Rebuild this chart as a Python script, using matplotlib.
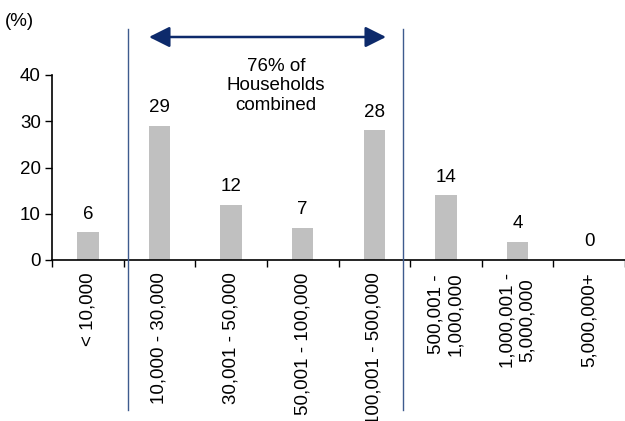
import numpy as np
import matplotlib.pyplot as plt
from matplotlib.lines import Line2D

plt.rcParams['font.family'] = ['Liberation Sans', 'DejaVu Sans']

categories = ['< 10,000', '10,000 - 30,000', '30,001 - 50,000', '50,001 - 100,000',
              '100,001 - 500,000', '500,001 -\n1,000,000', '1,000,001 -\n5,000,000', '5,000,000+']
shares = [6, 29, 12, 7, 28, 14, 4, 0]
yticks = [0, 10, 20, 30, 40]

W, H = 625, 421
FS = 13.5
fig = plt.figure(figsize=(W / 100, H / 100), dpi=100)
ax = fig.add_axes([52 / W, 1 - 260 / H, (W - 52) / W, (260 - 75) / H])

x = np.arange(len(categories))
ax.bar(x, shares, width=0.3, color='#c0c0c0', zorder=2)
for xi, v in zip(x, shares):
    ax.annotate(str(v), (xi, v), xytext=(0, 7), textcoords='offset points',
                ha='center', va='bottom', fontsize=FS)

ax.set_xlim(-0.5, len(categories) - 0.5)
ax.set_ylim(0, 40)
ax.set_yticks(yticks)
ax.set_xticks(np.arange(len(categories) + 1) - 0.5)
ax.set_xticklabels([])
ax.set_xticks(x, minor=True)
ax.set_xticklabels(categories, minor=True, rotation=90, ha='center', va='top',
                   fontsize=FS, linespacing=1.2)
ax.tick_params(axis='x', which='minor', length=0, pad=9)
ax.tick_params(axis='x', which='major', length=5, width=1, direction='out')
ax.tick_params(axis='y', length=5, width=1, labelsize=FS, direction='out', pad=3)
for s in ['top', 'right']:
    ax.spines[s].set_visible(False)
for s in ['left', 'bottom']:
    ax.spines[s].set_linewidth(1.2)

# bracket lines around the combined group
for px in [128, 403]:
    fig.add_artist(Line2D([px / W, px / W], [1 - 29 / H, 1 - 410 / H],
                          color='#3e5b8e', lw=1.0))
ax.annotate('', xy=(386 / W, 1 - 37 / H), xytext=(149 / W, 1 - 37 / H),
            xycoords='figure fraction', textcoords='figure fraction',
            arrowprops=dict(arrowstyle='<|-|>,head_length=0.9,head_width=0.45',
                            color='#0d2a6b', lw=1.8, mutation_scale=14,
                            shrinkA=0, shrinkB=0))
fig.text(276 / W, 1 - 86 / H, '76% of\nHouseholds\ncombined', ha='center',
         va='center', fontsize=FS, linespacing=1.2)
fig.text(5 / W, 1 - 22 / H, '(%)', ha='left', va='center', fontsize=FS)

fig.savefig('out.png', dpi=100)
